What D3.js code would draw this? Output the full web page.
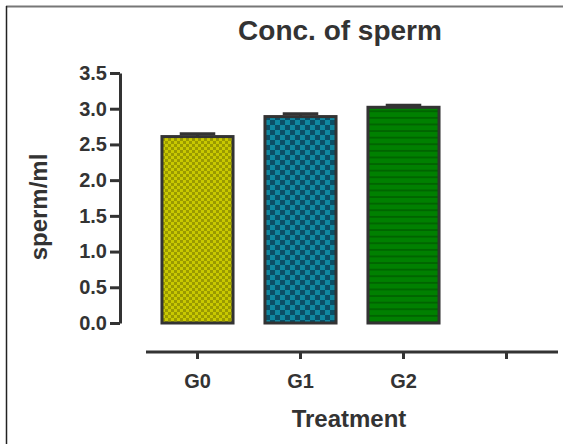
<!DOCTYPE html>
<html><head><meta charset="utf-8">
<script src="https://cdn.jsdelivr.net/npm/d3@7"></script>
<style>body{margin:0;background:#fff}svg{display:block;font-family:"Liberation Sans",Arial,sans-serif}</style>
</head><body><svg id="c" width="563" height="444"></svg>
<script>
const categories = ["G0", "G1", "G2", ""];
const values = [2.61, 2.89, 3.02];
const errors = [0.04, 0.04, 0.03];
const yTicks = [0, 0.5, 1, 1.5, 2, 2.5, 3, 3.5];
const title = "Conc. of sperm";
const xTitle = "Treatment";
const yTitle = "sperm/ml";

const svg = d3.select("#c");
const defs = svg.append("defs");
// patterns
const p0 = defs.append("pattern").attr("id","p0").attr("patternUnits","userSpaceOnUse").attr("width",6).attr("height",6);
p0.append("rect").attr("width",6).attr("height",6).attr("fill","#c9c900");
p0.append("rect").attr("width",3).attr("height",3).attr("fill","#9a9a00");
p0.append("rect").attr("x",3).attr("y",3).attr("width",3).attr("height",3).attr("fill","#9a9a00");
const p1 = defs.append("pattern").attr("id","p1").attr("patternUnits","userSpaceOnUse").attr("width",10).attr("height",10);
p1.append("rect").attr("width",10).attr("height",10).attr("fill","#0f87a0");
p1.append("rect").attr("width",5).attr("height",5).attr("fill","#0b4f66");
p1.append("rect").attr("x",5).attr("y",5).attr("width",5).attr("height",5).attr("fill","#0b4f66");
const p2 = defs.append("pattern").attr("id","p2").attr("patternUnits","userSpaceOnUse").attr("width",6).attr("height",6.6);
p2.append("rect").attr("width",6).attr("height",6.6).attr("fill","#008000");
p2.append("rect").attr("y",5).attr("width",6).attr("height",1.3).attr("fill","#005800");
const fills = ["url(#p0)","url(#p1)","url(#p2)"];

// frame
svg.append("line").attr("x1",6).attr("x2",563).attr("y1",6.5).attr("y2",6.5).attr("stroke","#777").attr("stroke-width",2);
svg.append("line").attr("x1",6.5).attr("x2",6.5).attr("y1",6).attr("y2",444).attr("stroke","#222").attr("stroke-width",1.5);

const x = d3.scaleBand().domain(categories).range([146, 558]).paddingInner(0.31).paddingOuter(0.155);
const y = d3.scaleLinear().domain([0, 3.5]).range([323, 73]);

// bars
const g = svg.append("g");
categories.slice(0,3).forEach((c,i)=>{
  const cx = x(c) + x.bandwidth()/2;
  g.append("line").attr("x1",cx).attr("x2",cx).attr("y1",y(values[i])).attr("y2",y(values[i]+errors[i])).attr("stroke","#333").attr("stroke-width",3);
  g.append("line").attr("x1",cx - x.bandwidth()/4).attr("x2",cx + x.bandwidth()/4).attr("y1",y(values[i]+errors[i])).attr("y2",y(values[i]+errors[i])).attr("stroke","#333").attr("stroke-width",3);
  g.append("rect").attr("x",x(c)).attr("y",y(values[i])).attr("width",x.bandwidth()).attr("height",y(0)-y(values[i]))
    .attr("fill",fills[i]).attr("stroke","#333").attr("stroke-width",3);
});

const FF = "Liberation Sans, Arial, sans-serif";
// y axis
const yAxis = svg.append("g").attr("transform","translate(120,0)")
  .call(d3.axisLeft(y).tickValues(yTicks).tickFormat(d3.format(".1f")).tickSize(10).tickSizeOuter(0));
yAxis.attr("font-size",null).attr("font-family",null);
yAxis.select(".domain").attr("stroke","#333").attr("stroke-width",3);
yAxis.selectAll(".tick line").attr("stroke","#333").attr("stroke-width",3);
yAxis.selectAll(".tick text").attr("x",-13).style("font-size","20px").style("font-weight","bold").attr("fill","#333").style("font-family",FF);

// x axis
const xAxis = svg.append("g").attr("transform","translate(0,352)")
  .call(d3.axisBottom(x).tickSize(7).tickSizeOuter(0));
xAxis.attr("font-size",null).attr("font-family",null);
xAxis.select(".domain").attr("stroke","#333").attr("stroke-width",3).attr("d","M146,0H558");
xAxis.selectAll(".tick line").attr("stroke","#333").attr("stroke-width",3);
xAxis.selectAll(".tick text").attr("y",22).style("font-size","20px").style("font-weight","bold").attr("fill","#333").style("font-family",FF);

// titles
svg.append("text").attr("x",340).attr("y",40).attr("text-anchor","middle").style("font-size","28px").style("font-weight","bold").attr("fill","#333").text(title);
svg.append("text").attr("x",349).attr("y",427).attr("text-anchor","middle").style("font-size","24px").style("font-weight","bold").attr("fill","#333").text(xTitle);
svg.append("text").attr("transform","translate(47,207) rotate(-90)").attr("text-anchor","middle").style("font-size","24px").style("font-weight","bold").attr("fill","#333").text(yTitle);
</script></body></html>
